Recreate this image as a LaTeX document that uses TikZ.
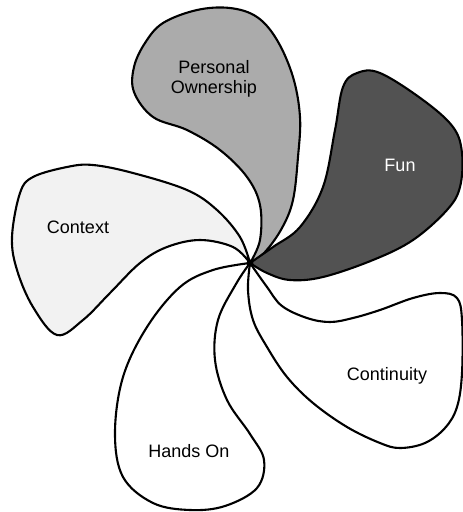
\documentclass[tikz,border=0pt]{standalone}
\usepackage{fontspec}
\setmainfont{Liberation Sans}
\begin{document}
\begin{tikzpicture}[x=1pt,y=-1pt,
  petal/.style={draw=black,line width=2.1pt,line join=round},
  lbl/.style={font=\fontsize{18}{20}\selectfont,align=center,inner sep=0pt}]
\useasboundingbox (0,0) rectangle (463,512);
\coordinate (C) at (250,263);
% Context
\path[petal,fill=black!5] plot[smooth,tension=0.6] coordinates {(250,263) (233,247) (200,240) (167,247) (140,263) (110,293) (83,320) (57,335) (33,307) (17,270) (12,237) (20,193) (33,177) (67,167) (93,165) (133,173) (187,190) (217,210) (240,237) (250,263)} -- cycle;
% Personal Ownership
\path[petal,fill=black!33] plot[smooth,tension=0.6] coordinates {(250,263) (265,252) (282,228) (293,200) (298,157) (300,117) (293,77) (277,40) (257,17) (230,8) (197,10) (163,23) (145,43) (134,67) (134,92) (153,117) (187,130) (220,150) (247,177) (260,205) (260,240) (250,263)} -- cycle;
% Fun
\path[petal,fill=black!68] plot[smooth,tension=0.6] coordinates {(250,263) (273,247) (300,227) (323,187) (335,130) (343,87) (357,73) (380,73) (423,100) (453,127) (462,153) (460,187) (447,210) (413,240) (373,260) (323,277) (290,280) (267,273) (250,263)} -- cycle;
% Continuity
\path[petal,fill=white] plot[smooth,tension=0.6] coordinates {(250,263) (267,287) (282,306) (307,318) (330,322) (353,318) (380,310) (413,298) (440,293) (457,298) (462,320) (462,373) (457,407) (445,428) (425,443) (400,448) (380,443) (347,427) (313,403) (287,377) (267,347) (253,320) (248,290) (250,263)} -- cycle;
% Hands On
\path[petal,fill=white] plot[smooth,tension=0.6] coordinates {(250,263) (213,270) (180,287) (147,327) (123,377) (115,433) (123,477) (153,503) (190,510) (225,506) (257,488) (264,460) (250,434) (227,400) (215,360) (218,320) (236,284) (250,263)} -- cycle;
\fill (C) circle (3.5pt);
\node[lbl] (po) at (214,79) {Personal\\Ownership};
\node[lbl,text=white] (fun) at (400,165) {Fun};
\node[lbl] (ctx) at (78,227) {Context};
\node[lbl] (cont) at (387,376) {Continuity};
\node[lbl] (hands) at (189,451) {Hands On};
\end{tikzpicture}
\end{document}
